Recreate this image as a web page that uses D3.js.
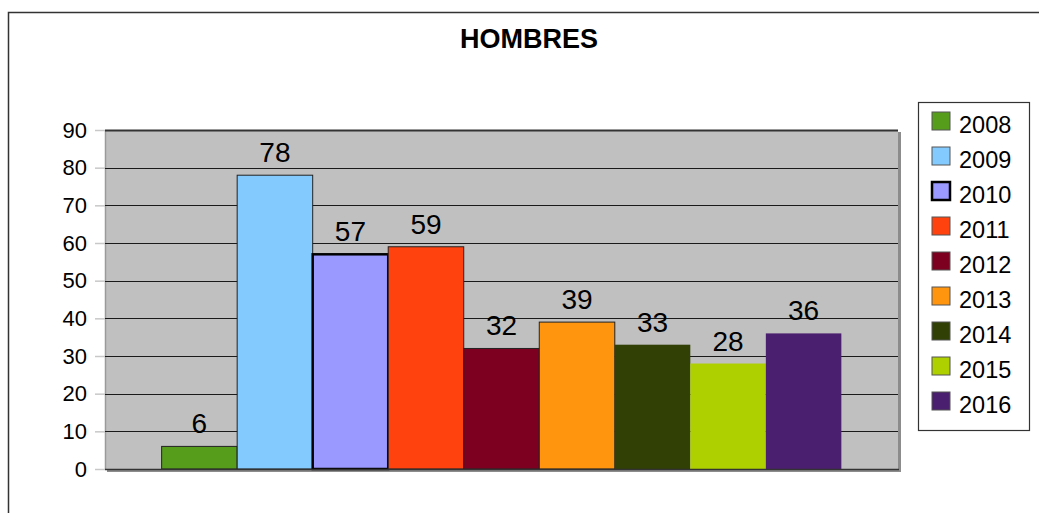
<!DOCTYPE html>
<html>
<head>
<meta charset="utf-8">
<script src="https://cdn.jsdelivr.net/npm/d3@7"></script>
<style>
  body { margin: 0; background: #fff; }
  text { font-family: "Liberation Sans", Arial, sans-serif; }
</style>
</head>
<body>
<div id="container"></div>
<script>
var years = ["2008", "2009", "2010", "2011", "2012", "2013", "2014", "2015", "2016"];
var values = [6, 78, 57, 59, 32, 39, 33, 28, 36];
var colors = ["#579d1c", "#83caff", "#9999ff", "#ff420e", "#7e0021", "#ff950e", "#314004", "#aecf00", "#4b1f6f"];
var yTicks = [0, 10, 20, 30, 40, 50, 60, 70, 80, 90];
var title = "HOMBRES";

var width = 1039, height = 513;
var plot = {left: 105, top: 130, right: 898, bottom: 469};

var svg = d3.select("#container").append("svg")
    .attr("width", width)
    .attr("height", height);

// outer frame (only top and left are inside the picture)
svg.append("path")
   .attr("d", "M8.5,513 V12.5 H1039")
   .attr("fill", "none")
   .attr("stroke", "#333")
   .attr("stroke-width", 1.5);

svg.append("text")
   .attr("x", 529)
   .attr("y", 48)
   .attr("text-anchor", "middle")
   .attr("font-size", 27)
   .attr("font-weight", "bold")
   .text(title);

var x = d3.scaleBand()
          .domain(years)
          .range([plot.left, plot.right])
          .paddingInner(0)
          .paddingOuter(0.75);
var y = d3.scaleLinear()
          .domain([0, 90])
          .range([plot.bottom, plot.top]);

// plot area with shadow
svg.append("rect")
   .attr("x", plot.left + 2).attr("y", plot.top + 2)
   .attr("width", plot.right - plot.left + 1).attr("height", plot.bottom - plot.top + 1)
   .attr("fill", "#8c8c8c");
svg.append("rect")
   .attr("x", plot.left).attr("y", plot.top)
   .attr("width", plot.right - plot.left).attr("height", plot.bottom - plot.top)
   .attr("fill", "#c0c0c0");
svg.append("line")
   .attr("x1", plot.left + 0.5).attr("x2", plot.left + 0.5)
   .attr("y1", plot.top).attr("y2", plot.bottom)
   .attr("stroke", "#9a9a9a").attr("stroke-width", 1.5);

// gridlines
svg.append("g")
   .selectAll("line")
   .data(yTicks.filter(d => d > 0))
   .enter().append("line")
   .attr("x1", plot.left).attr("x2", plot.right)
   .attr("y1", d => Math.round(y(d)) + 0.5)
   .attr("y2", d => Math.round(y(d)) + 0.5)
   .attr("stroke", d => d === 90 ? "#333" : "#1a1a1a")
   .attr("stroke-width", d => d === 90 ? 2 : 1);

// y axis
var yAxis = svg.append("g")
   .attr("transform", "translate(" + plot.left + ",0)")
   .call(d3.axisLeft(y).tickValues(yTicks).tickSize(10).tickPadding(8));
yAxis.select(".domain").remove();
yAxis.selectAll(".tick line").attr("stroke", "#c8c8c8").attr("stroke-width", 1.5);
yAxis.selectAll(".tick text")
     .attr("font-size", 22)
     .attr("font-family", "'Liberation Sans', Arial, sans-serif")
     .attr("fill", "#000");

// bars
svg.selectAll(".bar")
   .data(years)
   .enter().append("rect")
   .attr("class", "bar")
   .attr("x", d => x(d))
   .attr("y", (d, i) => y(values[i]))
   .attr("width", x.bandwidth())
   .attr("height", (d, i) => y(0) - y(values[i]))
   .attr("fill", (d, i) => colors[i])
   .attr("stroke", (d, i) => i === 2 ? "#000" : (i < 6 ? "#222" : "none"))
   .attr("stroke-width", (d, i) => i === 2 ? 2.5 : 1);

// bottom axis line
svg.append("line")
   .attr("x1", plot.left).attr("x2", plot.right + 1)
   .attr("y1", plot.bottom + 0.5).attr("y2", plot.bottom + 0.5)
   .attr("stroke", "#333").attr("stroke-width", 1.5);

// value labels
svg.selectAll(".val")
   .data(years)
   .enter().append("text")
   .attr("class", "val")
   .attr("x", d => x(d) + x.bandwidth() / 2)
   .attr("y", (d, i) => y(values[i]) - 13)
   .attr("text-anchor", "middle")
   .attr("font-size", 28)
   .text((d, i) => values[i]);

// legend
var legend = svg.append("g");
legend.append("rect")
      .attr("x", 918.5).attr("y", 102.5)
      .attr("width", 111).attr("height", 328)
      .attr("fill", "#fff")
      .attr("stroke", "#333").attr("stroke-width", 1.2);

var item = legend.selectAll(".item")
      .data(years)
      .enter().append("g")
      .attr("class", "item")
      .attr("transform", (d, i) => "translate(932," + (112 + i * 35) + ")");
item.append("rect")
    .attr("width", 18).attr("height", 18)
    .attr("fill", (d, i) => colors[i])
    .attr("stroke", (d, i) => i === 2 ? "#000" : "#555")
    .attr("stroke-width", (d, i) => i === 2 ? 2.5 : 1);
item.append("text")
    .attr("x", 27).attr("y", 21)
    .attr("font-size", 23.5)
    .text(d => d);
</script>
</body>
</html>
